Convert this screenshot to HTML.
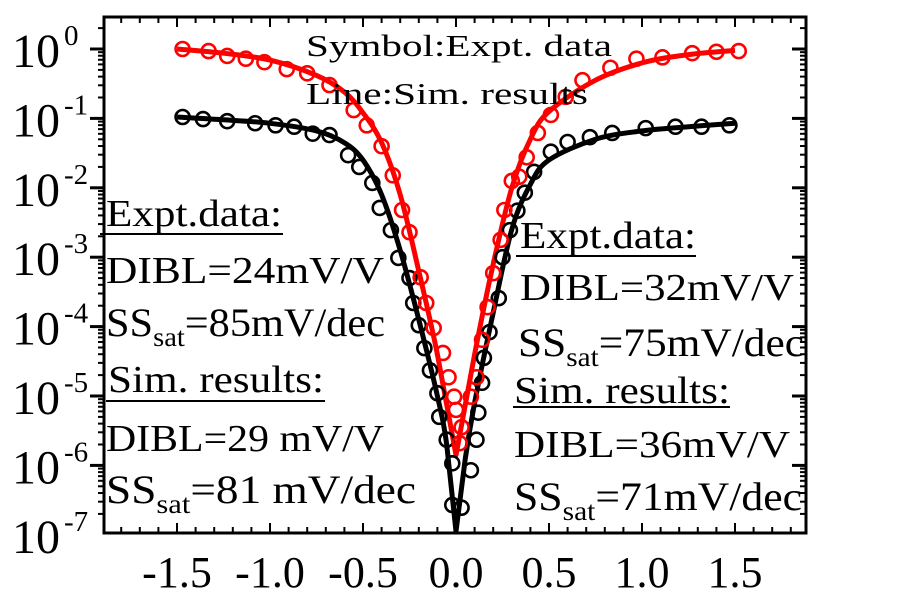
<!DOCTYPE html>
<html><head><meta charset="utf-8"><style>
html,body{margin:0;padding:0;background:#fff;}
svg{display:block;font-family:"Liberation Serif",serif;}
</style></head><body>
<svg id="chart" width="908" height="598" viewBox="0 0 908 598">
<g id="marks"></g>
<g id="axes"></g>
<g id="notes">
<text x="306" y="56" font-size="31" textLength="306" lengthAdjust="spacingAndGlyphs">Symbol:Expt. data</text>
<text x="306" y="104" font-size="31" textLength="282" lengthAdjust="spacingAndGlyphs">Line:Sim. results</text>

<text x="106" y="226" font-size="38" textLength="176" lengthAdjust="spacingAndGlyphs">Expt.data:</text>
<line x1="100" y1="234" x2="283" y2="234" stroke="#000" stroke-width="2"/>
<text x="106" y="283" font-size="38" textLength="278" lengthAdjust="spacingAndGlyphs">DIBL=24mV/V</text>
<text x="106" y="336" font-size="40" textLength="279" lengthAdjust="spacingAndGlyphs">SS<tspan font-size="27" dy="10">sat</tspan><tspan dy="-10">=85mV/dec</tspan></text>
<text x="108" y="392" font-size="38" textLength="216" lengthAdjust="spacingAndGlyphs">Sim. results:</text>
<line x1="106" y1="401" x2="325" y2="401" stroke="#000" stroke-width="2"/>
<text x="106" y="451" font-size="38" textLength="278" lengthAdjust="spacingAndGlyphs">DIBL=29 mV/V</text>
<text x="106" y="503" font-size="40" textLength="310" lengthAdjust="spacingAndGlyphs">SS<tspan font-size="27" dy="10">sat</tspan><tspan dy="-10">=81 mV/dec</tspan></text>

<text x="520" y="248" font-size="38" textLength="176" lengthAdjust="spacingAndGlyphs">Expt.data:</text>
<line x1="516" y1="256" x2="696" y2="256" stroke="#000" stroke-width="2"/>
<text x="520" y="300" font-size="38" textLength="274" lengthAdjust="spacingAndGlyphs">DIBL=32mV/V</text>
<text x="518" y="356" font-size="40" textLength="286" lengthAdjust="spacingAndGlyphs">SS<tspan font-size="27" dy="10">sat</tspan><tspan dy="-10">=75mV/dec</tspan></text>
<text x="514" y="403" font-size="38" textLength="216" lengthAdjust="spacingAndGlyphs">Sim. results:</text>
<line x1="513" y1="407" x2="730" y2="407" stroke="#000" stroke-width="2"/>
<text x="514" y="457" font-size="38" textLength="276" lengthAdjust="spacingAndGlyphs">DIBL=36mV/V</text>
<text x="514" y="510" font-size="40" textLength="288" lengthAdjust="spacingAndGlyphs">SS<tspan font-size="27" dy="10">sat</tspan><tspan dy="-10">=71mV/dec</tspan></text>
</g>
</svg>
<script>
// ---- data ----
const redExptV = [-1.47,-1.33,-1.23,-1.13,-1.03,-0.91,-0.80,-0.68,-0.55,-0.48,-0.40,-0.34,-0.29,-0.25,-0.19,-0.16,-0.12,-0.07,-0.04,-0.01,0.00,0.02,0.03,0.08,0.11,0.14,0.17,0.20,0.24,0.26,0.30,0.34,0.38,0.44,0.51,0.59,0.68,0.83,0.97,1.11,1.27,1.40,1.52];
const redExptLogI = [0,-0.03,-0.10,-0.14,-0.19,-0.29,-0.35,-0.52,-0.88,-1.10,-1.40,-1.82,-2.32,-2.64,-3.29,-3.66,-4.02,-4.38,-4.73,-5.01,-5.20,-5.68,-5.45,-5.01,-4.73,-4.19,-3.72,-3.23,-2.75,-2.32,-1.90,-1.84,-1.56,-1.21,-0.95,-0.69,-0.45,-0.27,-0.14,-0.12,-0.06,-0.04,-0.03];
const redSimV = [-1.5,-1.25,-1.0,-0.75,-0.6,-0.5,-0.4,-0.3,-0.2,-0.1,0.0,0.1,0.2,0.3,0.4,0.5,0.75,1.0,1.25,1.5];
const redSimLogI = [0,-0.06,-0.16,-0.38,-0.62,-0.92,-1.35,-2.1,-3.2,-4.4,-5.85,-4.4,-3.1,-2.0,-1.3,-0.9,-0.45,-0.2,-0.08,-0.02];
const blackExptV = [-1.47,-1.36,-1.23,-1.08,-0.97,-0.87,-0.77,-0.68,-0.58,-0.52,-0.45,-0.41,-0.35,-0.31,-0.25,-0.23,-0.20,-0.17,-0.14,-0.10,-0.09,-0.05,-0.02,-0.02,0.03,0.08,0.11,0.12,0.14,0.15,0.18,0.23,0.25,0.29,0.33,0.37,0.42,0.51,0.60,0.72,0.84,1.02,1.18,1.32,1.47];
const blackExptLogI = [-0.98,-1.01,-1.04,-1.07,-1.10,-1.12,-1.22,-1.24,-1.53,-1.70,-1.93,-2.29,-2.61,-3.01,-3.30,-3.66,-3.98,-4.31,-4.63,-4.96,-5.30,-5.63,-5.97,-6.57,-6.61,-6.07,-5.63,-5.24,-4.81,-4.45,-4.08,-3.59,-3.00,-2.61,-2.33,-2.07,-1.77,-1.48,-1.34,-1.27,-1.21,-1.14,-1.12,-1.12,-1.10];
const blackSimV = [-1.5,-1.25,-1.0,-0.75,-0.6,-0.5,-0.4,-0.3,-0.2,-0.1,-0.05,0.0,0.05,0.1,0.2,0.3,0.4,0.5,0.75,1.0,1.25,1.5];
const blackSimLogI = [-0.98,-1.02,-1.07,-1.18,-1.35,-1.6,-2.1,-2.9,-3.9,-5.0,-5.7,-6.95,-5.9,-5.1,-3.8,-2.6,-1.95,-1.6,-1.3,-1.18,-1.12,-1.07];
const xTickLabels = ["-1.5","-1.0","-0.5","0.0","0.5","1.0","1.5"];
const xTickValues = [-1.5,-1.0,-0.5,0.0,0.5,1.0,1.5];
const yTickExps = [0,-1,-2,-3,-4,-5,-6,-7];

// ---- scales ----
const L=104,R=806,T=17,B=533;
const X0=456, XS=186, Y0=49, YS=69.4;
function sx(v){return X0+v*XS;}
function sy(l){return Y0-l*YS;}
const NS="http://www.w3.org/2000/svg";
function mk(tag,attrs,parent){const e=document.createElementNS(NS,tag);for(const k in attrs)e.setAttribute(k,attrs[k]);parent.appendChild(e);return e;}
const marks=document.getElementById('marks'), axes=document.getElementById('axes');

function drawLine(vs,ls,color,name){
  const P=vs.map((v,i)=>[sx(v),sy(ls[i])]);
  let d='M'+P[0][0].toFixed(1)+' '+P[0][1].toFixed(1);
  for(let i=0;i<P.length-1;i++){
    const p0=P[Math.max(0,i-1)],p1=P[i],p2=P[i+1],p3=P[Math.min(P.length-1,i+2)];
    const sharp = (i+1<P.length-1 && P[i+1][1]>P[i][1] && P[i+1][1]>P[i+2][1]) || (i>0 && P[i][1]>P[i-1][1] && P[i][1]>P[i+1][1]);
    const t=sharp?0:1/6;
    const c1=[p1[0]+(p2[0]-p0[0])*t,p1[1]+(p2[1]-p0[1])*t];
    const c2=[p2[0]-(p3[0]-p1[0])*t,p2[1]-(p3[1]-p1[1])*t];
    d+=' C'+c1[0].toFixed(1)+' '+c1[1].toFixed(1)+' '+c2[0].toFixed(1)+' '+c2[1].toFixed(1)+' '+p2[0].toFixed(1)+' '+p2[1].toFixed(1);
  }
  const p=mk('path',{d:d,fill:'none',stroke:color,'stroke-width':5,'stroke-linejoin':'round'},marks);
  
  
}
function drawPts(vs,ls,color,name){
  vs.forEach((v,i)=>{
    const c=mk('circle',{cx:sx(v),cy:sy(ls[i]),r:7,fill:'none',stroke:color,'stroke-width':2.6},marks);
    
    
  });
}
drawLine(blackSimV,blackSimLogI,'#000','black-sim-line');
drawLine(redSimV,redSimLogI,'#ff0000','red-sim-line');
drawPts(blackExptV,blackExptLogI,'#000','black-expt-point');
drawPts(redExptV,redExptLogI,'#ff0000','red-expt-point');

// frame
const fr=mk('rect',{x:L,y:T,width:R-L,height:B-T,fill:'none',stroke:'#000','stroke-width':3},axes);



// x ticks
for(let k=-18;k<=18;k++){
  const v=k/10, x=sx(v); if(x<L+2||x>R-2) continue;
  const major=(k%5===0), len=major?10:6;
  mk('line',{x1:x,y1:B,x2:x,y2:B-len,stroke:'#000','stroke-width':2},axes);
  mk('line',{x1:x,y1:T,x2:x,y2:T+len,stroke:'#000','stroke-width':2},axes);
}
xTickValues.forEach((v,i)=>{
  const t=mk('text',{x:sx(v),y:587,'font-size':44,'text-anchor':'middle'},axes);
  t.textContent=xTickLabels[i];
  
  
});
// y ticks
for(let e=1;e>=-7;e--){
  for(let m=1;m<=9;m++){
    const lv = (m===1)? e : (e-1+Math.log10(m));
    const y=sy(lv); if(y<T+1||y>B+1) continue;
    const major=(m===1), len=major?14:6;
    mk('line',{x1:L,y1:y,x2:L-len,y2:y,stroke:'#000','stroke-width':major?3:2},axes);
    mk('line',{x1:R,y1:y,x2:R-len,y2:y,stroke:'#000','stroke-width':major?3:2},axes);
  }
}
yTickExps.forEach(e=>{
  const y=sy(e)+18;
  const t=mk('text',{x:12,y:y,'font-size':48},axes);
  t.textContent='10';
  
  
  const s=mk('text',{x:64,y:y-22,'font-size':29},axes);
  s.textContent=String(e);
});
</script>
</body></html>
